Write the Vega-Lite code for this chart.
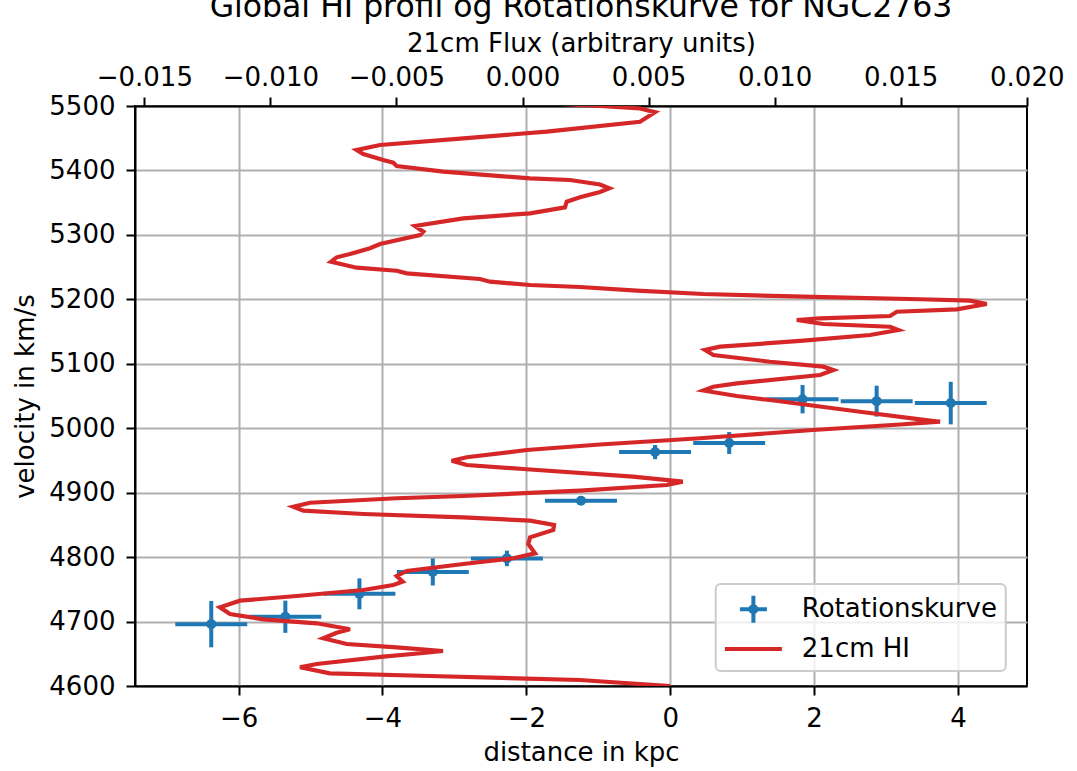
{
  "$schema": "https://vega.github.io/schema/vega-lite/v6.json",
  "width": 892,
  "height": 580,
  "autosize": {"type": "none"},
  "padding": {"left": 135, "top": 106, "right": 50, "bottom": 85},
  "background": "white",
  "config": {
    "font": "DejaVu Sans",
    "view": {"stroke": "black", "strokeWidth": 2},
    "axis": {
      "labelFontSize": 26, "titleFontSize": 26, "titleFontWeight": "normal",
      "labelFont": "DejaVu Sans", "titleFont": "DejaVu Sans",
      "labelColor": "black", "titleColor": "black",
      "tickColor": "black", "tickWidth": 2, "tickSize": 9,
      "domainColor": "black", "domainWidth": 2,
      "gridColor": "#b0b0b0", "gridWidth": 2,
      "labelOverlap": false, "labelFlush": false
    }
  },
  "title": {
    "text": "Global HI profil og Rotationskurve for NGC2763",
    "fontSize": 31.5, "fontWeight": "normal", "font": "DejaVu Sans",
    "color": "black", "anchor": "middle", "offset": 7
  },
  "datasets": {
    "rot": [
      {"d": -6.38, "v": 4696, "d_lo": -6.88, "d_hi": -5.88, "v_lo": 4660, "v_hi": 4732},
      {"d": -5.35, "v": 4707.5, "d_lo": -5.85, "d_hi": -4.85, "v_lo": 4682.5, "v_hi": 4732.5},
      {"d": -4.32, "v": 4743, "d_lo": -4.82, "d_hi": -3.82, "v_lo": 4719, "v_hi": 4767},
      {"d": -3.30, "v": 4777, "d_lo": -3.80, "d_hi": -2.80, "v_lo": 4756, "v_hi": 4798},
      {"d": -2.27, "v": 4798, "d_lo": -2.77, "d_hi": -1.77, "v_lo": 4786, "v_hi": 4810},
      {"d": -1.24, "v": 4887.5, "d_lo": -1.74, "d_hi": -0.74, "v_lo": 4883.5, "v_hi": 4891.5},
      {"d": -0.21, "v": 4963, "d_lo": -0.71, "d_hi": 0.29, "v_lo": 4952, "v_hi": 4974},
      {"d": 0.82, "v": 4977, "d_lo": 0.32, "d_hi": 1.32, "v_lo": 4960, "v_hi": 4994},
      {"d": 1.84, "v": 5045, "d_lo": 1.34, "d_hi": 2.34, "v_lo": 5023, "v_hi": 5067},
      {"d": 2.87, "v": 5042, "d_lo": 2.37, "d_hi": 3.37, "v_lo": 5018, "v_hi": 5066},
      {"d": 3.90, "v": 5039, "d_lo": 3.40, "d_hi": 4.40, "v_lo": 5006, "v_hi": 5072}
    ],
    "hi": [
      {"flux": 0.005851, "v": 4600},
      {"flux": 0.002281, "v": 4609.3},
      {"flux": -0.003669, "v": 4615.5},
      {"flux": -0.007636, "v": 4619.7},
      {"flux": -0.008826, "v": 4629.0},
      {"flux": -0.008164, "v": 4634.1},
      {"flux": -0.005522, "v": 4645.5},
      {"flux": -0.003935, "v": 4651.2},
      {"flux": -0.003154, "v": 4654.3},
      {"flux": -0.004990, "v": 4660.0},
      {"flux": -0.006974, "v": 4665.2},
      {"flux": -0.007902, "v": 4674.0},
      {"flux": -0.007370, "v": 4682.7},
      {"flux": -0.006843, "v": 4688.0},
      {"flux": -0.008164, "v": 4697.3},
      {"flux": -0.010282, "v": 4703.5},
      {"flux": -0.011603, "v": 4711.7},
      {"flux": -0.012000, "v": 4722.1},
      {"flux": -0.011206, "v": 4732.4},
      {"flux": -0.008957, "v": 4739.7},
      {"flux": -0.006315, "v": 4749.0},
      {"flux": -0.005125, "v": 4756.7},
      {"flux": -0.004752, "v": 4761.9},
      {"flux": -0.004990, "v": 4770.7},
      {"flux": -0.004594, "v": 4778.5},
      {"flux": -0.002348, "v": 4789.3},
      {"flux": -0.000365, "v": 4798.2},
      {"flux": 0.000496, "v": 4805.9},
      {"flux": 0.000230, "v": 4820.4},
      {"flux": 0.000298, "v": 4830.7},
      {"flux": 0.001222, "v": 4842.1},
      {"flux": 0.001250, "v": 4849.8},
      {"flux": 0.000298, "v": 4856.5},
      {"flux": -0.002348, "v": 4861.8},
      {"flux": -0.006315, "v": 4866.9},
      {"flux": -0.008695, "v": 4872.0},
      {"flux": -0.009092, "v": 4878.2},
      {"flux": -0.008430, "v": 4884.4},
      {"flux": -0.004990, "v": 4891.3},
      {"flux": -0.002348, "v": 4894.8},
      {"flux": 0.002281, "v": 4903.1},
      {"flux": 0.005720, "v": 4911.9},
      {"flux": 0.006355, "v": 4917.0},
      {"flux": 0.004383, "v": 4924.8},
      {"flux": 0.000167, "v": 4936.3},
      {"flux": -0.002213, "v": 4942.9},
      {"flux": -0.002809, "v": 4949.6},
      {"flux": -0.002213, "v": 4954.9},
      {"flux": 0.000167, "v": 4966.2},
      {"flux": 0.003074, "v": 4974.7},
      {"flux": 0.007041, "v": 4984.4},
      {"flux": 0.011524, "v": 4997.2},
      {"flux": 0.014975, "v": 5005.8},
      {"flux": 0.016562, "v": 5010.1},
      {"flux": 0.015768, "v": 5013.8},
      {"flux": 0.013388, "v": 5025.6},
      {"flux": 0.009818, "v": 5043.8},
      {"flux": 0.008497, "v": 5050.0},
      {"flux": 0.007172, "v": 5058.5},
      {"flux": 0.007569, "v": 5064.4},
      {"flux": 0.008497, "v": 5069.7},
      {"flux": 0.011801, "v": 5082.6},
      {"flux": 0.012329, "v": 5090.3},
      {"flux": 0.011932, "v": 5095.5},
      {"flux": 0.009818, "v": 5103.2},
      {"flux": 0.007569, "v": 5113.6},
      {"flux": 0.007239, "v": 5121.4},
      {"flux": 0.007834, "v": 5126.5},
      {"flux": 0.011139, "v": 5135.8},
      {"flux": 0.013785, "v": 5144.7},
      {"flux": 0.014907, "v": 5152.4},
      {"flux": 0.014578, "v": 5157.5},
      {"flux": 0.011932, "v": 5161.7},
      {"flux": 0.010877, "v": 5167.9},
      {"flux": 0.011801, "v": 5170.6},
      {"flux": 0.014578, "v": 5174.1},
      {"flux": 0.014844, "v": 5180.8},
      {"flux": 0.017224, "v": 5184.5},
      {"flux": 0.018414, "v": 5192.8},
      {"flux": 0.017751, "v": 5197.9},
      {"flux": 0.015768, "v": 5200.1},
      {"flux": 0.011139, "v": 5204.1},
      {"flux": 0.007172, "v": 5208.3},
      {"flux": 0.004530, "v": 5213.4},
      {"flux": 0.002281, "v": 5219.1},
      {"flux": 0.000298, "v": 5222.2},
      {"flux": -0.001289, "v": 5227.4},
      {"flux": -0.001686, "v": 5231.6},
      {"flux": -0.004594, "v": 5240.4},
      {"flux": -0.004990, "v": 5244.4},
      {"flux": -0.006577, "v": 5249.1},
      {"flux": -0.007596, "v": 5258.4},
      {"flux": -0.007370, "v": 5265.2},
      {"flux": -0.006843, "v": 5270.3},
      {"flux": -0.006049, "v": 5279.2},
      {"flux": -0.005653, "v": 5285.9},
      {"flux": -0.004066, "v": 5299.8},
      {"flux": -0.003935, "v": 5305.0},
      {"flux": -0.004264, "v": 5313.8},
      {"flux": -0.002348, "v": 5325.7},
      {"flux": 0.000298, "v": 5333.5},
      {"flux": 0.001686, "v": 5342.8},
      {"flux": 0.001753, "v": 5351.5},
      {"flux": 0.002281, "v": 5358.3},
      {"flux": 0.003074, "v": 5366.6},
      {"flux": 0.003443, "v": 5372.3},
      {"flux": 0.003074, "v": 5378.2},
      {"flux": 0.001884, "v": 5385.2},
      {"flux": 0.000298, "v": 5387.8},
      {"flux": -0.003142, "v": 5398.1},
      {"flux": -0.004990, "v": 5406.9},
      {"flux": -0.005125, "v": 5412.0},
      {"flux": -0.005522, "v": 5416.2},
      {"flux": -0.006315, "v": 5425.5},
      {"flux": -0.006577, "v": 5431.7},
      {"flux": -0.005653, "v": 5439.5},
      {"flux": -0.002348, "v": 5449.9},
      {"flux": 0.000960, "v": 5460.1},
      {"flux": 0.004661, "v": 5475.6},
      {"flux": 0.005256, "v": 5490.4},
      {"flux": 0.004661, "v": 5496.1},
      {"flux": 0.003074, "v": 5500},
      {"flux": 0.001488, "v": 5503.1}
    ]
  },
  "layer": [
    {
      "data": {"name": "rot"},
      "layer": [
        {
          "mark": {"type": "rule", "color": "#1f77b4", "strokeWidth": 4, "clip": true},
          "encoding": {
            "x": {"field": "d_lo", "type": "quantitative",
                  "scale": {"domain": [-7.44, 4.96], "nice": false, "zero": false},
                  "axis": {"orient": "bottom", "values": [-6, -4, -2, 0, 2, 4], "format": "d", "grid": true,
                           "title": "distance in kpc", "labelPadding": 10, "titlePadding": 8}},
            "x2": {"field": "d_hi"},
            "y": {"field": "v", "type": "quantitative",
                  "scale": {"domain": [4600, 5500], "nice": false, "zero": false},
                  "axis": {"values": [4600, 4700, 4800, 4900, 5000, 5100, 5200, 5300, 5400, 5500], "format": "d",
                           "grid": true, "title": "velocity in km/s", "labelPadding": 11, "titlePadding": 10}}
          }
        },
        {
          "mark": {"type": "rule", "color": "#1f77b4", "strokeWidth": 4, "clip": true},
          "encoding": {
            "x": {"field": "d", "type": "quantitative", "axis": {"title": "distance in kpc"}},
            "y": {"field": "v_lo", "type": "quantitative", "axis": {"title": "velocity in km/s"}},
            "y2": {"field": "v_hi"}
          }
        },
        {
          "mark": {"type": "point", "filled": true, "size": 100, "color": "#1f77b4", "opacity": 1, "clip": true},
          "encoding": {
            "x": {"field": "d", "type": "quantitative", "axis": {"title": "distance in kpc"}},
            "y": {"field": "v", "type": "quantitative", "axis": {"title": "velocity in km/s"}}
          }
        }
      ]
    },
    {
      "data": {"name": "hi"},
      "mark": {"type": "line", "strokeWidth": 4.2, "clip": true},
      "encoding": {
        "x": {"field": "flux", "type": "quantitative",
              "scale": {"domain": [-0.01537, 0.02001], "nice": false, "zero": false},
              "axis": {"orient": "top", "values": [-0.015, -0.01, -0.005, 0, 0.005, 0.01, 0.015, 0.02],
                       "format": ".3f", "grid": false, "title": "21cm Flux (arbitrary units)",
                       "labelPadding": 7, "titlePadding": 8}},
        "y": {"field": "v", "type": "quantitative", "axis": {"title": "velocity in km/s"}},
        "order": {"field": "v", "type": "quantitative"},
        "color": {
          "datum": "21cm HI",
          "scale": {"domain": ["Rotationskurve", "21cm HI"], "range": ["#1f77b4", "#d62728"]},
          "legend": {
            "orient": "none", "legendX": 580.7, "legendY": 478, "title": null,
            "padding": 8.2, "rowPadding": 0.9,
            "symbolSize": 900, "symbolStrokeWidth": 4,
            "symbolOffset": 12.5, "labelOffset": 31.4, "labelLimit": 500,
            "labelFontSize": 26, "labelFont": "DejaVu Sans", "labelColor": "black",
            "fillColor": "rgba(255,255,255,0.8)", "strokeColor": "#cccccc", "cornerRadius": 5,
            "encode": {
              "symbols": {"update": {
                "shape": {"signal": "datum.value === 'Rotationskurve' ? 'M -0.9 0 L 0.9 0 M 0 -0.9 L 0 0.9 M -0.2 0 A 0.2 0.2 0 1 0 0.2 0 A 0.2 0.2 0 1 0 -0.2 0 Z' : 'M -1.9 0 L 1.9 0'"},
                "fill": {"signal": "datum.value === 'Rotationskurve' ? '#1f77b4' : 'transparent'"},
                "stroke": {"signal": "datum.value === 'Rotationskurve' ? '#1f77b4' : '#d62728'"},
                "strokeWidth": {"value": 4},
                "opacity": {"value": 1}
              }},
              "legend": {"update": {"strokeWidth": {"value": 2}}}
            }
          }
        }
      }
    }
  ],
  "resolve": {"scale": {"x": "independent"}, "axis": {"x": "independent"}}
}
